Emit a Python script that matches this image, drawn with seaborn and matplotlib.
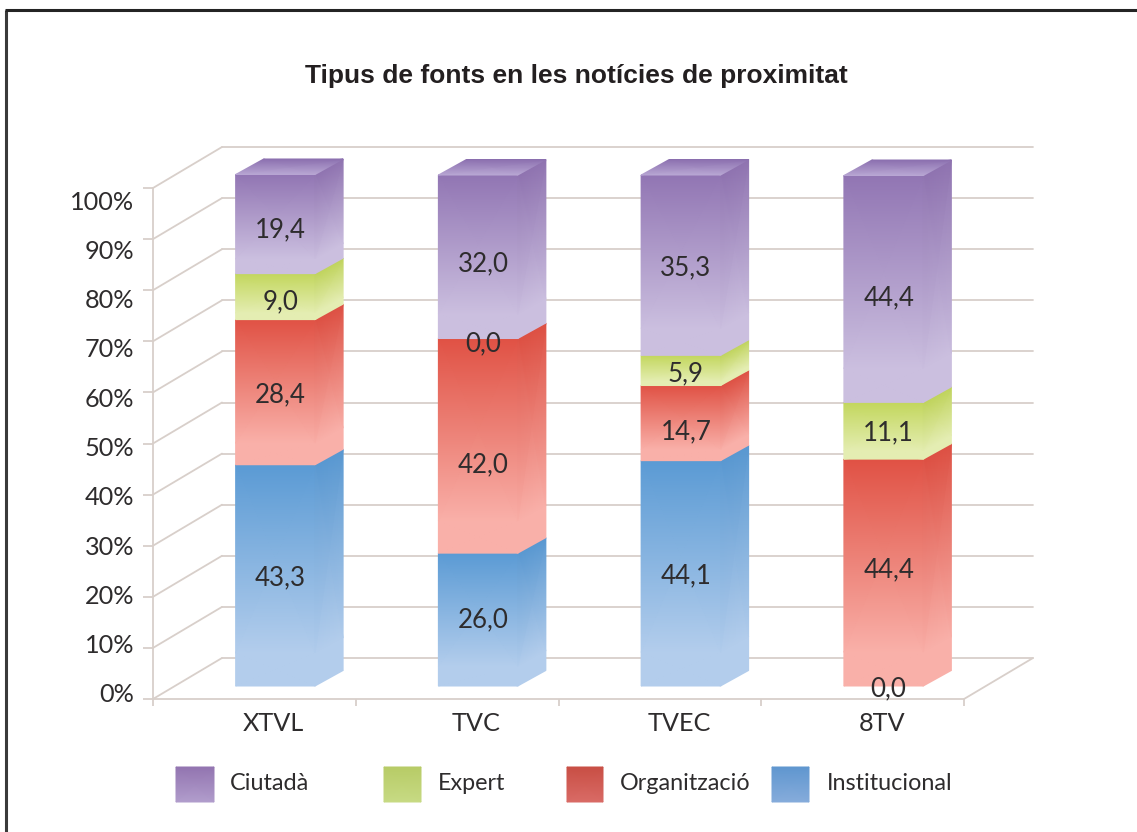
import matplotlib
matplotlib.use("Agg")
import matplotlib.pyplot as plt
import numpy as np
import pandas as pd
import seaborn as sns
from matplotlib.colors import LinearSegmentedColormap
from matplotlib.transforms import Affine2D

# Data, bottom of the stack first
channels = ["XTVL", "TVC", "TVEC", "8TV"]
institucional = [43.3, 26.0, 44.1, 0.0]
organitzacio = [28.4, 42.0, 14.7, 44.4]
expert = [9.0, 0.0, 5.9, 11.1]
ciutada = [19.4, 32.0, 35.3, 44.4]
y_ticks = [0, 10, 20, 30, 40, 50, 60, 70, 80, 90, 100]
title = "Tipus de fonts en les notícies de proximitat"

series_names = ["Institucional", "Organització", "Expert", "Ciutadà"]
series_values = [institucional, organitzacio, expert, ciutada]

# value labels are not exactly centred in the reference (pixels up)
label_nudges = [
    [0, 2, 0, 0],
    [0, -16, -6, 5],
    [-3, -3, -1, 0],
    [-3, -5, 0, -6],
]

# top colour, bottom colour of each segment
face_colors = {
    "Institucional": ("#5a9ad4", "#b3cdec"),
    "Organització": ("#e05144", "#f9b0a9"),
    "Expert": ("#c2d65c", "#e4edb2"),
    "Ciutadà": ("#9175b3", "#cbbfdf"),
}
legend_colors = {
    "Institucional": ("#5f96cf", "#86acdb"),
    "Organització": ("#c84e44", "#d96b66"),
    "Expert": ("#b7cb66", "#c7da84"),
    "Ciutadà": ("#9274b0", "#b19dcc"),
}

GRID = "#d8cfca"
TEXT = "#2e2c2d"
PX_X = 811 / 4  # pixels per category
PX_Y = 511 / 100  # pixels per percent

sns.set_style("white")
plt.rcParams["font.family"] = ["Lato", "DejaVu Sans"]

fig = plt.figure(figsize=(11.37, 8.32), dpi=100)
ax = fig.add_axes([153 / 1137, (832 - 699) / 832, 811 / 1137, 511 / 832])
ax.patch.set_alpha(0)

# ----------------------
# Stacked bars
# ----------------------
df = pd.DataFrame({"pos": np.arange(len(channels))})
bottom = np.zeros(len(channels))
bottoms = []
for name, values in zip(series_names, series_values):
    df[name] = values
    bottoms.append(bottom.copy())
    sns.barplot(
        data=df,
        x="pos",
        y=name,
        native_scale=True,
        bottom=bottom.copy(),
        color=face_colors[name][0],
        width=79.5 / PX_X,
        saturation=1,
        linewidth=0,
        zorder=2,
        ax=ax,
    )
    bottom = bottom + np.array(values)

ax.set_xlim(-0.5, 3.5)
ax.set_ylim(0, 100)
ax.set_xlabel("")
ax.set_ylabel("")

# bars stand a little behind the front axis plane
front = ax.transData + Affine2D().translate(21, 13)
depth_x = 28 / PX_X
depth_y = 15.5 / PX_Y
half = 79.5 / PX_X / 2


def shade(axis, xs, ys, top, low, transform, hold=0.0, z=3):
    # xs, ys are 2x2, first row is the bottom edge
    # the low colour stays flat over the lowest "hold" part
    xs, ys = np.array(xs, dtype=float), np.array(ys, dtype=float)
    mid_x = xs[0] + (xs[1] - xs[0]) * hold
    mid_y = ys[0] + (ys[1] - ys[0]) * hold
    cmap = LinearSegmentedColormap.from_list("seg", [low, top])
    axis.pcolormesh(
        np.vstack([xs[0], mid_x, xs[1]]),
        np.vstack([ys[0], mid_y, ys[1]]),
        np.array([[0.0, 0.0], [0.0, 0.0], [1.0, 1.0]]),
        shading="gouraud",
        cmap=cmap,
        vmin=0,
        vmax=1,
        transform=transform,
        clip_on=False,
        zorder=z,
    )


def darker(color, f=0.985):
    return tuple(c * f for c in matplotlib.colors.to_rgb(color))


for container, name, values, base in zip(ax.containers, series_names, series_values, bottoms):
    top_c, low_c = face_colors[name]
    for i, (patch, v, b) in enumerate(zip(container.patches, values, base)):
        patch.set_transform(front)
        patch.set_clip_on(False)
        if v == 0:
            continue
        x0, x1 = i - half, i + half
        shade(ax, [[x0, x1], [x0, x1]], [[b, b], [b + v, b + v]], top_c, low_c, front, hold=0.15)
        shade(
            ax,
            [[x1, x1 + depth_x], [x1, x1 + depth_x]],
            [[b, b + depth_y], [b + v, b + v + depth_y]],
            darker(top_c),
            low_c,
            front,
            hold=0.15,
        )

# top cap
for i, total in enumerate(bottom):
    x0, x1 = i - half, i + half
    shade(
        ax,
        [[x0, x1], [x0 + depth_x, x1 + depth_x]],
        [[total, total], [total + depth_y, total + depth_y]],
        "#8a6eae",
        "#b9a8d4",
        front,
    )

# value labels
label_tr = front + Affine2D().translate(5, 0)
for values, base, nudges in zip(series_values, bottoms, label_nudges):
    for i, (v, b, n) in enumerate(zip(values, base, nudges)):
        ax.text(
            i,
            b + v / 2 + n / PX_Y,
            f"{v:.1f}".replace(".", ","),
            ha="center",
            va="center_baseline",
            fontsize=18.6,
            color=TEXT,
            transform=label_tr,
            clip_on=False,
            zorder=6,
        )

# ----------------------
# Walls and axes
# ----------------------
back_x = 69 / PX_X
back_y = 41 / PX_Y
for v in y_ticks:
    ax.plot([-0.5, -0.5 + back_x], [v, v + back_y], color=GRID, lw=1.3, clip_on=False, zorder=1)
    ax.plot(
        [-0.5 + back_x, 3.5 + back_x],
        [v + back_y, v + back_y],
        color=GRID,
        lw=1.3,
        clip_on=False,
        zorder=1,
    )
ax.plot([3.5, 3.5 + back_x], [0, back_y], color=GRID, lw=1.3, clip_on=False, zorder=1)

sns.despine(ax=ax)
for side in ["left", "bottom"]:
    ax.spines[side].set_color(GRID)
    ax.spines[side].set_linewidth(1.3)

ax.set_yticks(y_ticks)
ax.set_yticklabels([f"{v}%" for v in y_ticks])
ax.tick_params(
    axis="y", left=True, length=7, width=1.3, color=GRID, pad=6.5, labelsize=18.2, labelcolor=TEXT
)
# the percent labels do not quite line up with their ticks in the reference
for v, label in zip(y_ticks, ax.get_yticklabels()):
    label.set_transform(label.get_transform() + Affine2D().translate(0, 6 - 0.18 * v))

ax.set_xticks(range(len(channels)))
ax.set_xticklabels(channels)
ax.set_xticks([-0.5, 0.5, 1.5, 2.5, 3.5], minor=True)
ax.tick_params(axis="x", which="major", bottom=False, pad=6, labelsize=18.2, labelcolor=TEXT)
ax.tick_params(axis="x", which="minor", bottom=True, length=5, width=1.3, color=GRID)
for label in ax.get_xticklabels():
    label.set_transform(label.get_transform() + Affine2D().translate(19, 0))

# ----------------------
# Overlay in pixel units: frame, title, legend
# ----------------------
over = fig.add_axes([0, 0, 1, 1], zorder=10)
over.set_xlim(0, 1137)
over.set_ylim(832, 0)
over.axis("off")

over.plot([6, 6], [9.5, 832], color="#3a3a3a", lw=2.2, solid_capstyle="butt")
over.plot([5, 1137], [9.5, 9.5], color="#242424", lw=2.2, solid_capstyle="butt")

over.text(
    576,
    76,
    title,
    ha="center",
    va="center",
    fontsize=19.0,
    fontweight="bold",
    family="Liberation Sans",
    color="#231f20",
)

legend_names = ["Ciutadà", "Expert", "Organització", "Institucional"]
swatch_x = [(176, 214), (384, 421), (567, 603), (772, 809)]
text_x = [230, 438, 620, 827]
for name, (x0, x1), tx in zip(legend_names, swatch_x, text_x):
    top_c, low_c = legend_colors[name]
    shade(over, [[x0, x1], [x0, x1]], [[802, 802], [767, 767]], top_c, low_c, over.transData)
    over.text(tx, 783, name, ha="left", va="center", fontsize=16.8, color=TEXT)

fig.savefig("out.png", dpi=100)
plt.close(fig)
